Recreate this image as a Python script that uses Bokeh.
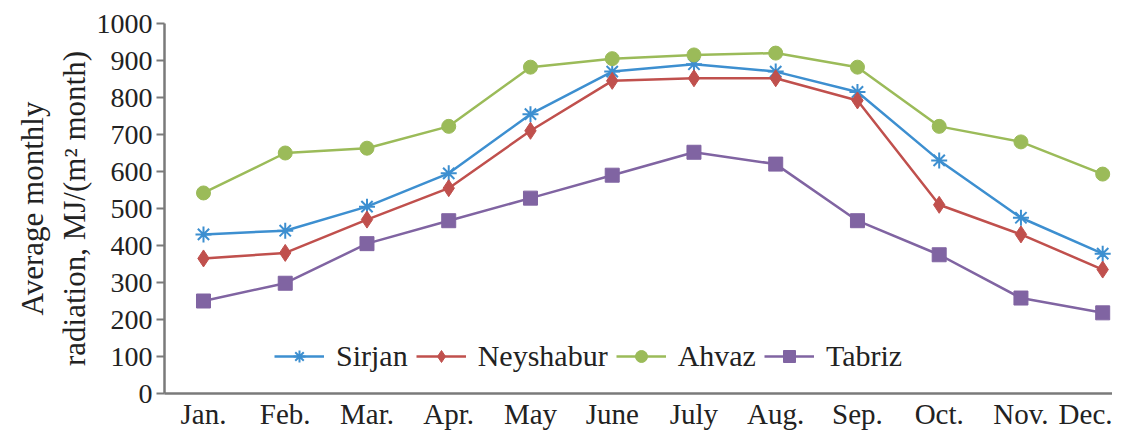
from bokeh.plotting import figure
from bokeh.models import Legend, LegendItem, FixedTicker, ColumnDataSource
from bokeh.embed import file_html
from bokeh.resources import INLINE

months = ["Jan.", "Feb.", "Mar.", "Apr.", "May", "June", "July", "Aug.", "Sep.", "Oct.", "Nov.", "Dec."]
sirjan = [430, 440, 505, 595, 755, 870, 890, 870, 815, 630, 475, 378]
neyshabur = [365, 380, 470, 555, 710, 845, 852, 852, 792, 510, 430, 335]
ahvaz = [542, 650, 663, 722, 882, 905, 915, 920, 882, 722, 680, 593]
tabriz = [250, 298, 405, 467, 528, 590, 652, 620, 467, 375, 258, 218]
y_ticks = list(range(0, 1001, 100))

FONT = "Liberation Serif"
xs = list(range(len(months)))
NAN = float("nan")

p = figure(width=1112, height=432, output_backend="svg", toolbar_location=None,
           x_range=(-0.477, 11.12), y_range=(0, 1000),
           min_border_left=164, min_border_right=0, min_border_top=23, min_border_bottom=37)
p.outline_line_color = None
p.grid.visible = False
p.background_fill_color = "white"
p.border_fill_color = "white"

series = [
    ("Sirjan", sirjan, "#3D8FD0", "asterisk", 16, 11),
    ("Neyshabur", neyshabur, "#C0504D", "diamond", 17, 11),
    ("Ahvaz", ahvaz, "#9BBB59", "circle", 14, 9),
    ("Tabriz", tabriz, "#8064A2", "square", 14, 9),
]

items = []
for name, vals, col, mk, sz, lsz in series:
    src = ColumnDataSource(dict(x=xs, y=vals))
    p.line("x", "y", source=src, line_color=col, line_width=2.5)
    dummy = ColumnDataSource(dict(x=[NAN], y=[NAN]))
    ln = p.line("x", "y", source=dummy, line_color=col, line_width=2.5)
    if mk == "asterisk":
        p.scatter("x", "y", source=src, marker=mk, size=sz, line_color=col, line_width=2)
        m = p.scatter("x", "y", source=dummy, marker=mk, size=lsz, line_color=col, line_width=2)
    else:
        p.scatter("x", "y", source=src, marker=mk, size=sz, fill_color=col, line_color=col)
        m = p.scatter("x", "y", source=dummy, marker=mk, size=lsz, fill_color=col, line_color=col)
    items.append(LegendItem(label=name, renderers=[ln, m]))

legend = Legend(items=items, orientation="horizontal", location=(110, 20),
                glyph_width=50, glyph_height=30, label_standoff=12, spacing=8,
                background_fill_alpha=0, border_line_color=None, padding=4, margin=0,
                label_text_font="Times New Roman", label_text_font_size="30px",
                label_text_color="#222222")
p.add_layout(legend, "center")

p.xaxis.ticker = FixedTicker(ticks=xs)
p.xaxis.major_label_overrides = {i: m for i, m in enumerate(months)}
p.xaxis.major_tick_line_color = None
p.xaxis.major_tick_out = 0
p.xaxis.major_tick_in = 0
p.xaxis.minor_tick_line_color = None
p.xaxis.axis_line_color = "#7a7a7a"
p.xaxis.axis_line_width = 2.5
p.xaxis.major_label_text_font = FONT
p.xaxis.major_label_text_font_size = "29px"
p.xaxis.major_label_text_color = "#222222"
p.xaxis.major_label_standoff = 4

p.yaxis.ticker = FixedTicker(ticks=y_ticks)
p.yaxis.minor_tick_line_color = None
p.yaxis.axis_line_color = "#7a7a7a"
p.yaxis.axis_line_width = 2.5
p.yaxis.major_tick_line_color = "#7a7a7a"
p.yaxis.major_tick_line_width = 2
p.yaxis.major_tick_out = 8
p.yaxis.major_tick_in = 0
p.yaxis.major_label_text_font = FONT
p.yaxis.major_label_text_font_size = "28px"
p.yaxis.major_label_text_color = "#222222"
p.yaxis.major_label_standoff = 4
p.yaxis.axis_label = "Average monthly\nradiation, MJ/(m\u00b2 month)"
p.yaxis.axis_label_text_font = FONT
p.yaxis.axis_label_text_font_size = "31px"
p.yaxis.axis_label_text_font_style = "normal"
p.yaxis.axis_label_text_color = "#222222"
p.yaxis.axis_label_standoff = 2

open("out.html", "w").write(file_html(p, INLINE))
